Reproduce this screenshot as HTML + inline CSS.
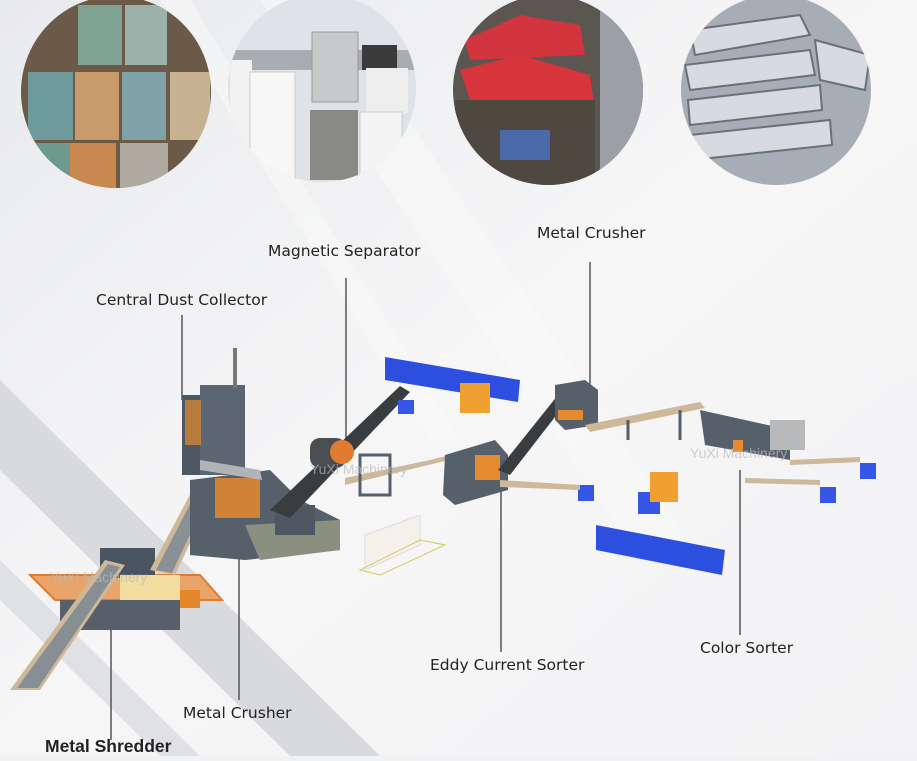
<!DOCTYPE html>
<html><head><meta charset="utf-8"><style>
html,body{margin:0;padding:0}
body{width:917px;height:756px;overflow:hidden;background:#f1f2f4;font-family:"Liberation Sans",sans-serif}
</style></head><body>
<svg width="917" height="756" viewBox="0 0 917 756" xmlns="http://www.w3.org/2000/svg">
<defs>
<linearGradient id="bg" x1="0" y1="0" x2="1" y2="1">
<stop offset="0" stop-color="#e9eaed"/><stop offset="0.5" stop-color="#f6f6f7"/><stop offset="1" stop-color="#f3f3f5"/>
</linearGradient>
<clipPath id="c1"><ellipse cx="116" cy="92" rx="95" ry="96"/></clipPath>
<clipPath id="c2"><ellipse cx="322" cy="88" rx="94" ry="94"/></clipPath>
<clipPath id="c3"><ellipse cx="548" cy="90" rx="95" ry="95"/></clipPath>
<clipPath id="c4"><ellipse cx="776" cy="90" rx="95" ry="95"/></clipPath>
</defs>
<rect width="917" height="756" fill="url(#bg)"/>
<polygon points="0,380 0,470 290,756 380,756" fill="#d9dadd"/>
<polygon points="0,560 0,600 160,756 200,756" fill="#e0e1e4"/>
<polygon points="260,0 330,0 700,560 640,560" fill="#fafafa" opacity="0.5"/>
<polygon points="160,0 190,0 460,440 430,440" fill="#fafafa" opacity="0.5"/>
<g clip-path="url(#c1)">
<rect x="20" y="0" width="200" height="190" fill="#6b5a48"/>
<rect x="78" y="5" width="44" height="60" fill="#7fa393"/><rect x="125" y="5" width="42" height="60" fill="#9bb1aa"/>
<rect x="28" y="72" width="45" height="68" fill="#6e9a9c"/><rect x="75" y="72" width="44" height="68" fill="#c99a6b"/>
<rect x="122" y="72" width="44" height="68" fill="#7ea2a8"/><rect x="170" y="72" width="40" height="68" fill="#c6b191"/>
<rect x="30" y="143" width="40" height="48" fill="#6e9a8e"/><rect x="70" y="143" width="46" height="48" fill="#c9884f"/>
<rect x="120" y="143" width="48" height="48" fill="#b0aba0"/>
</g>
<g clip-path="url(#c2)">
<rect x="226" y="0" width="192" height="190" fill="#dfe3e8"/>
<rect x="226" y="50" width="192" height="20" fill="#a9adb2"/>
<rect x="230" y="60" width="22" height="120" fill="#f2f2f2"/><rect x="250" y="72" width="45" height="110" fill="#f7f7f7" stroke="#ccc"/>
<rect x="312" y="32" width="46" height="70" fill="#c7c9cb" stroke="#999"/><rect x="310" y="110" width="48" height="70" fill="#8a8a85"/>
<rect x="362" y="45" width="35" height="25" fill="#3a3a3a"/><rect x="366" y="68" width="42" height="45" fill="#eeeeee"/>
<rect x="360" y="112" width="42" height="65" fill="#f4f4f4" stroke="#ccc"/>
</g>
<g clip-path="url(#c3)">
<rect x="450" y="0" width="200" height="190" fill="#5b5650"/>
<rect x="600" y="0" width="50" height="190" fill="#9ca0a6"/>
<path d="M465,40 L520,15 L580,25 L585,55 L470,60Z" fill="#d2353d"/>
<path d="M460,70 L520,55 L590,75 L595,110 L470,100Z" fill="#d8343c"/>
<rect x="455" y="100" width="140" height="90" fill="#4e4840"/>
<rect x="500" y="130" width="50" height="30" fill="#4a6aa8"/>
</g>
<g clip-path="url(#c4)">
<rect x="676" y="0" width="200" height="190" fill="#a7adb6"/>
<g fill="#d7dbe1" stroke="#6b7078" stroke-width="2">
<path d="M690,30 L800,15 L810,35 L695,55Z"/><path d="M685,65 L810,50 L815,75 L690,90Z"/>
<path d="M688,100 L820,85 L822,110 L690,125Z"/><path d="M690,135 L830,120 L832,145 L692,160Z"/>
<path d="M815,40 L870,55 L865,90 L820,80Z"/>
</g>
</g>
<g font-size="15.5" fill="#222" font-family="DejaVu Sans, sans-serif">
<text x="268" y="256">Magnetic Separator</text>
<text x="537" y="238">Metal Crusher</text>
<text x="96" y="305">Central Dust Collector</text>
<text x="430" y="670">Eddy Current Sorter</text>
<text x="700" y="653">Color Sorter</text>
<text x="183" y="718">Metal Crusher</text>
</g>
<text x="45" y="752" font-weight="bold" font-size="17.5" fill="#222">Metal Shredder</text>
<g stroke="#555" stroke-width="1.5">
<line x1="182" y1="315" x2="182" y2="400"/>
<line x1="346" y1="278" x2="346" y2="440"/>
<line x1="590" y1="262" x2="590" y2="390"/>
<line x1="501" y1="487" x2="501" y2="652"/>
<line x1="740" y1="470" x2="740" y2="635"/>
<line x1="239" y1="537" x2="239" y2="700"/>
<line x1="111" y1="627" x2="111" y2="740"/>
</g>
<polygon points="30,575 200,575 222,600 55,600" fill="#e8a46a" stroke="#e07b30" stroke-width="2"/>
<rect x="100" y="548" width="55" height="30" fill="#4b5561"/>
<rect x="120" y="575" width="60" height="25" fill="#f2dca0"/>
<rect x="60" y="600" width="120" height="30" fill="#55606b"/>
<rect x="180" y="590" width="20" height="18" fill="#e6862a"/>
<polygon points="10,690 40,690 125,565 105,560" fill="#cdb89a"/>
<polygon points="17,688 38,688 120,567 108,564" fill="#888f94"/>
<polygon points="150,570 175,575 215,490 195,485" fill="#cdb89a"/>
<polygon points="156,570 172,573 210,492 198,489" fill="#8a9196"/>
<polygon points="190,480 270,470 300,500 340,520 340,550 245,560 190,555" fill="#56606a"/>
<polygon points="245,525 340,520 340,550 260,560" fill="#8a8f80"/>
<rect x="215" y="478" width="45" height="40" fill="#e58a2e" opacity="0.85"/>
<rect x="275" y="505" width="40" height="30" fill="#4d5863"/>
<rect x="182" y="395" width="55" height="80" fill="#4d5864"/>
<rect x="200" y="385" width="45" height="90" fill="#5b6672"/>
<rect x="233" y="348" width="4" height="40" fill="#777"/>
<rect x="185" y="400" width="16" height="45" fill="#e58a2e" opacity="0.7"/>
<polygon points="200,460 260,470 262,480 200,470" fill="#b0b4b8"/>
<polygon points="270,510 290,518 410,392 400,386" fill="#3a3d40"/>
<rect x="310" y="438" width="36" height="30" rx="10" fill="#4a4d52"/>
<circle cx="342" cy="452" r="12" fill="#e07b30"/>
<polygon points="345,478 430,460 470,450 470,455 345,485" fill="#cdb89a"/>
<rect x="360" y="455" width="30" height="40" fill="none" stroke="#55606b" stroke-width="3"/>
<polygon points="385,357 520,380 518,402 385,380" fill="#2d4fe0"/>
<polygon points="596,525 725,550 722,575 596,550" fill="#2d4fe0"/>
<rect x="398" y="400" width="16" height="14" fill="#3556e6"/>
<rect x="578" y="485" width="16" height="16" fill="#3556e6"/>
<rect x="638" y="492" width="22" height="22" fill="#3556e6"/>
<rect x="860" y="463" width="16" height="16" fill="#3556e6"/>
<rect x="820" y="487" width="16" height="16" fill="#3556e6"/>
<rect x="460" y="383" width="30" height="30" fill="#f0a030"/>
<rect x="650" y="472" width="28" height="30" fill="#f0a030"/>
<polygon points="365,535 420,515 420,545 365,570" fill="#f3f1ea" stroke="#ddd"/>
<polygon points="360,570 420,540 445,545 380,575" fill="none" stroke="#d8c860"/>
<polygon points="445,455 495,440 508,455 508,490 455,505 443,495" fill="#56606b"/>
<rect x="475" y="455" width="25" height="25" fill="#e58a2e"/>
<polygon points="498,470 510,475 572,395 562,390" fill="#3a3d40"/>
<polygon points="500,480 580,485 580,490 500,487" fill="#cdb89a"/>
<polygon points="555,385 585,380 598,390 598,425 565,430 555,420" fill="#56606b"/>
<rect x="558" y="410" width="25" height="10" fill="#e58a2e"/>
<polygon points="585,425 700,402 705,408 590,432" fill="#cdb89a"/>
<line x1="628" y1="420" x2="628" y2="440" stroke="#55606b" stroke-width="3"/>
<line x1="680" y1="410" x2="680" y2="440" stroke="#55606b" stroke-width="3"/>
<polygon points="700,410 790,430 790,460 705,445" fill="#56606b"/>
<rect x="770" y="420" width="35" height="30" fill="#b7b9bb"/>
<rect x="733" y="440" width="10" height="12" fill="#e58a2e"/>
<polygon points="790,460 860,457 860,462 790,465" fill="#cdb89a"/>
<polygon points="745,478 820,480 820,485 745,483" fill="#cdb89a"/>
<text x="310" y="474" font-size="14" fill="#bbb" opacity="0.7">YuXi Machinery</text>
<text x="690" y="458" font-size="14" fill="#bbb" opacity="0.7">YuXi Machinery</text>
<text x="50" y="582" font-size="14" fill="#bbb" opacity="0.7">YuXi Machinery</text>
</svg>
</body></html>
